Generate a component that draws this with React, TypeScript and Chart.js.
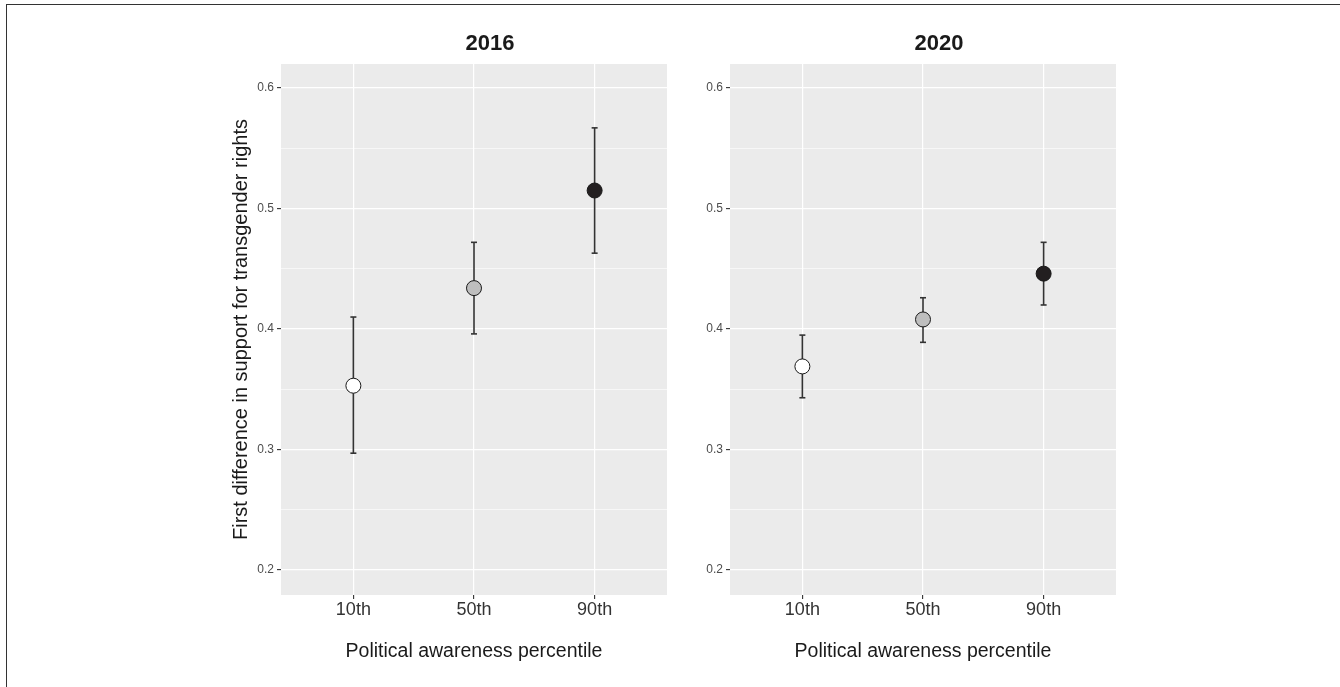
import React, { useEffect, useRef } from "react";
import { Chart, registerables } from "chart.js";

Chart.register(...registerables);

const CATEGORIES = ["10th", "50th", "90th"];
const CATEGORY_POS = [1, 2, 3];
const YEARS = ["2016", "2020"];
const EST_2016 = [0.353, 0.434, 0.515];
const LO_2016 = [0.297, 0.396, 0.463];
const HI_2016 = [0.41, 0.472, 0.567];
const EST_2020 = [0.369, 0.408, 0.446];
const LO_2020 = [0.343, 0.389, 0.42];
const HI_2020 = [0.395, 0.426, 0.472];
const Y_MAJOR = [0.2, 0.3, 0.4, 0.5, 0.6];
const Y_MINOR = [0.25, 0.35, 0.45, 0.55];
const POINT_FILLS = ["#ffffff", "#bebebe", "#231f20"];
const Y_MIN = 0.1793;
const Y_MAX = 0.62;
const X_MIN = 0.4;
const X_MAX = 3.6;

const FONT = "'Liberation Sans', Arial, Helvetica, sans-serif";

const panelBg = {
  id: "panelBg",
  beforeDraw(chart: any) {
    const { ctx, chartArea } = chart;
    ctx.save();
    ctx.fillStyle = "#ebebeb";
    ctx.fillRect(chartArea.left, chartArea.top, chartArea.right - chartArea.left, chartArea.bottom - chartArea.top);
    ctx.restore();
  },
};

function buildConfig(
  year: string,
  est: number[],
  lo: number[],
  hi: number[],
  showYTitle: boolean,
  yWidth: number,
  rightSpace: number
): any {
  const pointsDs = {
    label: year,
    data: CATEGORY_POS.map((x, i) => ({ x, y: est[i] })),
    backgroundColor: POINT_FILLS,
    pointBackgroundColor: POINT_FILLS,
    pointBorderColor: "#1a1a1a",
    pointBorderWidth: 1,
    pointRadius: 7.5,
    showLine: false,
  };
  const whiskers = CATEGORY_POS.map((x, i) => ({
    label: year + " " + CATEGORIES[i] + " CI",
    data: [
      { x, y: lo[i] },
      { x, y: hi[i] },
    ],
    showLine: true,
    borderColor: "#333333",
    borderWidth: 1.6,
    pointStyle: "line",
    pointRadius: 3,
    pointBorderColor: "#333333",
    pointBorderWidth: 1.6,
    pointBackgroundColor: "#333333",
  }));
  const allY = [...Y_MAJOR, ...Y_MINOR].sort((a, b) => a - b);
  const isMajor = (v: number) => Y_MAJOR.some((m) => Math.abs(m - v) < 1e-9);
  return {
    type: "scatter",
    data: { datasets: [pointsDs, ...whiskers] },
    plugins: [panelBg],
    options: {
      animation: false,
      responsive: false,
      maintainAspectRatio: false,
      events: [],
      layout: { padding: { top: 30.8, right: 0, bottom: 0, left: 0 } },
      plugins: {
        legend: { display: false },
        tooltip: { enabled: false },
        title: {
          display: true,
          text: year,
          color: "#1a1a1a",
          font: { family: FONT, size: 22, weight: "bold" },
          padding: { top: 0, bottom: 6.8 },
        },
      },
      scales: {
        x: {
          type: "linear",
          min: X_MIN,
          max: X_MAX,
          afterBuildTicks: (scale: any) => {
            scale.ticks = CATEGORY_POS.map((v) => ({ value: v }));
          },
          afterFit: (scale: any) => {
            scale.height = 92;
          },
          ticks: {
            callback: (v: number) => CATEGORIES[CATEGORY_POS.indexOf(v)] ?? "",
            color: "#333333",
            font: { family: FONT, size: 18 },
            padding: 0,
            maxRotation: 0,
            autoSkip: false,
          },
          grid: {
            color: "#ffffff",
            lineWidth: 1.2,
            tickColor: "#333333",
            tickLength: 4,
            tickWidth: 1.1,
          },
          border: { display: false },
          title: {
            display: true,
            text: "Political awareness percentile",
            color: "#1a1a1a",
            font: { family: FONT, size: 19.5 },
            padding: { top: 0, bottom: 23.3 },
          },
        },
        y: {
          type: "linear",
          min: Y_MIN,
          max: Y_MAX,
          afterBuildTicks: (scale: any) => {
            scale.ticks = allY.map((v) => ({ value: v }));
          },
          afterFit: (scale: any) => {
            scale.width = yWidth;
          },
          ticks: {
            callback: (v: number) => (isMajor(v) ? v.toFixed(1) : ""),
            color: "#4d4d4d",
            font: { family: FONT, size: 12 },
            padding: 3,
            autoSkip: false,
          },
          grid: {
            color: "#ffffff",
            lineWidth: (ctx: any) => (ctx.tick && isMajor(ctx.tick.value) ? 1.2 : 0.6),
            tickColor: (ctx: any) => (ctx.tick && isMajor(ctx.tick.value) ? "#333333" : "rgba(0,0,0,0)"),
            tickLength: 4,
            tickWidth: 1.1,
          },
          border: { display: false },
          title: {
            display: showYTitle,
            text: "First difference in support for transgender rights",
            color: "#1a1a1a",
            font: { family: FONT, size: 20 },
            padding: { top: 9, bottom: 0 },
          },
        },
        ySpacer: {
          type: "linear",
          position: "right",
          display: true,
          min: Y_MIN,
          max: Y_MAX,
          afterFit: (scale: any) => {
            scale.width = rightSpace;
          },
          ticks: { display: false },
          grid: { display: false, drawTicks: false },
          border: { display: false },
        },
      },
    },
  };
}

function Panel(props: { left: number; width: number; config: () => any }) {
  const ref = useRef<HTMLCanvasElement | null>(null);
  useEffect(() => {
    if (!ref.current) return;
    const chart = new Chart(ref.current, props.config());
    return () => chart.destroy();
  }, []);
  return (
    <canvas
      ref={ref}
      width={props.width}
      height={687}
      style={{ position: "absolute", left: props.left, top: 0, width: props.width, height: 687 }}
    />
  );
}

export default function App() {
  return (
    <div
      style={{
        position: "fixed",
        left: 0,
        top: 0,
        width: 1340,
        height: 687,
        overflow: "hidden",
        background: "#ffffff",
      }}
    >
      <div
        style={{
          position: "absolute",
          left: 6,
          top: 4,
          width: 1500,
          height: 800,
          borderLeft: "1.6px solid #333",
          borderTop: "1.6px solid #333",
        }}
      />
      <Panel
        left={220}
        width={540}
        config={() => buildConfig(YEARS[0], EST_2016, LO_2016, HI_2016, true, 61, 93)}
      />
      <Panel
        left={690}
        width={498}
        config={() => buildConfig(YEARS[1], EST_2020, LO_2020, HI_2020, false, 40, 72)}
      />
    </div>
  );
}
